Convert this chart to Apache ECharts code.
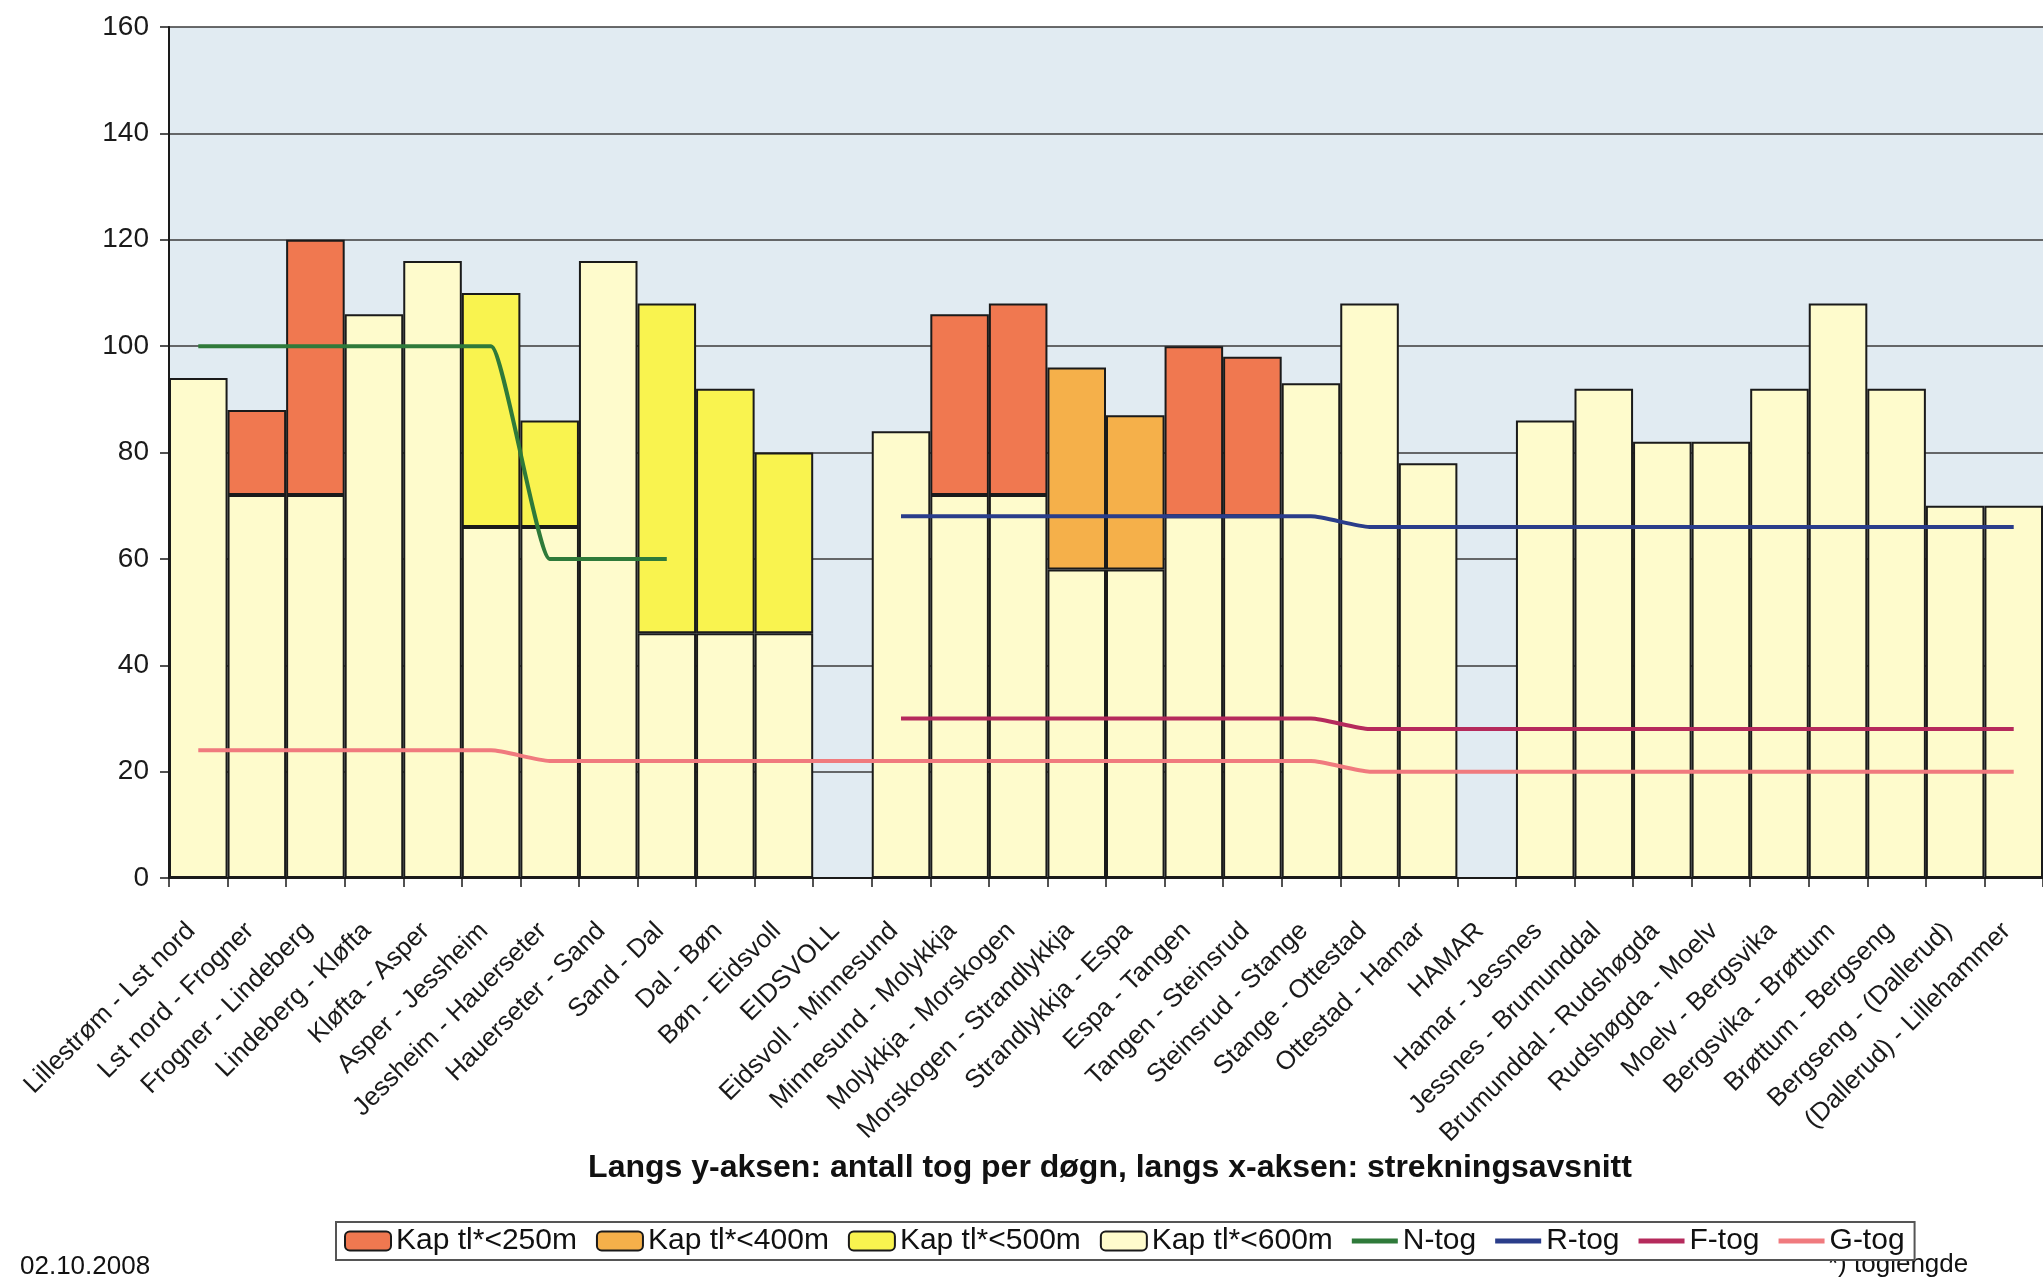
<!DOCTYPE html>
<html>
<head>
<meta charset="utf-8">
<script src="https://cdn.jsdelivr.net/npm/echarts@6/dist/echarts.min.js"></script>
<style>
html,body{margin:0;padding:0;background:#fff;}
#chart{width:2043px;height:1282px;}
</style>
</head>
<body>
<div id="chart"></div>
<script>
const categories = [
  'Lillestrøm - Lst nord','Lst nord - Frogner','Frogner - Lindeberg','Lindeberg - Kløfta','Kløfta - Asper',
  'Asper - Jessheim','Jessheim - Hauerseter','Hauerseter - Sand','Sand - Dal','Dal - Bøn','Bøn - Eidsvoll',
  'EIDSVOLL','Eidsvoll - Minnesund','Minnesund - Molykkja','Molykkja - Morskogen','Morskogen - Strandlykkja',
  'Strandlykkja - Espa','Espa - Tangen','Tangen - Steinsrud','Steinsrud - Stange','Stange - Ottestad',
  'Ottestad - Hamar','HAMAR','Hamar - Jessnes','Jessnes - Brumunddal','Brumunddal - Rudshøgda',
  'Rudshøgda - Moelv','Moelv - Bergsvika','Bergsvika - Brøttum','Brøttum - Bergseng','Bergseng - (Dallerud)',
  '(Dallerud) - Lillehammer'
];
// stacked segments (bottom segment = Kap tl*<600m)
const kap600 = [94,72,72,106,116,66,66,116,46,46,46,null,84,72,72,58,58,68,68,93,108,78,null,86,92,82,82,92,108,92,70,70];
const kap500 = [null,null,null,null,null,44,20,null,62,46,34,null,null,null,null,null,null,null,null,null,null,null,null,null,null,null,null,null,null,null,null,null];
const kap400 = [null,null,null,null,null,null,null,null,null,null,null,null,null,null,null,38,29,null,null,null,null,null,null,null,null,null,null,null,null,null,null,null];
const kap250 = [null,16,48,null,null,null,null,null,null,null,null,null,null,34,36,null,null,32,30,null,null,null,null,null,null,null,null,null,null,null,null,null];
const nTog = [100,100,100,100,100,100,60,60,60,null,null,null,null,null,null,null,null,null,null,null,null,null,null,null,null,null,null,null,null,null,null,null];
const rTog = [null,null,null,null,null,null,null,null,null,null,null,null,68,68,68,68,68,68,68,68,66,66,66,66,66,66,66,66,66,66,66,66];
const fTog = [null,null,null,null,null,null,null,null,null,null,null,null,30,30,30,30,30,30,30,30,28,28,28,28,28,28,28,28,28,28,28,28];
const gTog = [24,24,24,24,24,24,22,22,22,22,22,22,22,22,22,22,22,22,22,22,20,20,20,20,20,20,20,20,20,20,20,20];
const yTicks = [0,20,40,60,80,100,120,140,160];

const FONT = "'Liberation Sans', Arial, Helvetica, sans-serif";
const LINE_ICON = 'path://M0,0 L46,0 L46,5 L0,5 Z';
const chart = echarts.init(document.getElementById('chart'), null, {renderer:'canvas'});

function barSeries(name, data, color){
  return {
    name, type:'bar', stack:'kap', data,
    barCategoryGap:'0%', barGap:'0%',
    itemStyle:{color, borderColor:'#1a1a1a', borderWidth:2},
    z:2
  };
}
function lineSeries(name, data, color){
  return {
    name, type:'line', data, symbol:'none', showSymbol:false,
    smooth:0.2, smoothMonotone:'x', connectNulls:false,
    lineStyle:{color, width:4}, itemStyle:{color},
    z:5
  };
}

chart.setOption({
  animation:false,
  backgroundColor:'#ffffff',
  textStyle:{fontFamily:FONT},
  grid:{left:169, top:27, width:1882, height:851, show:true, backgroundColor:'#e1ebf2', borderWidth:0},
  xAxis:{
    type:'category', data:categories, boundaryGap:true,
    axisLine:{show:true, lineStyle:{color:'#1a1a1a', width:2}},
    axisTick:{show:true, length:9, interval:0, lineStyle:{color:'#1a1a1a', width:1.5}},
    axisLabel:{interval:0, rotate:45, fontSize:26, color:'#1a1a1a', fontFamily:FONT, margin:42, padding:[0,10,0,0]}
  },
  yAxis:{
    type:'value', min:yTicks[0], max:yTicks[yTicks.length-1], interval:20,
    axisLine:{show:true, lineStyle:{color:'#1a1a1a', width:2}},
    axisTick:{show:true, length:9, lineStyle:{color:'#1a1a1a', width:1.5}},
    axisLabel:{fontSize:28, color:'#1a1a1a', fontFamily:FONT, margin:20},
    splitLine:{show:true, lineStyle:{color:'#3a3a3a', width:1.5}}
  },
  legend:{
    left:336, top:1222, orient:'horizontal',
    data:[
      {name:'Kap tl*<250m'},{name:'Kap tl*<400m'},{name:'Kap tl*<500m'},{name:'Kap tl*<600m'},
      {name:'N-tog', icon:LINE_ICON},{name:'R-tog', icon:LINE_ICON},{name:'F-tog', icon:LINE_ICON},{name:'G-tog', icon:LINE_ICON}
    ],
    itemWidth:46, itemHeight:19, itemGap:19,
    padding:[3,10,3,8],
    borderColor:'#555', borderWidth:2, backgroundColor:'#ffffff',
    textStyle:{fontSize:30, color:'#111', fontFamily:FONT, lineHeight:32},
    z:10
  },
  graphic:[
    {type:'text', x:1110, y:1152, z:1,
     style:{text:'Langs y-aksen: antall tog per døgn, langs x-aksen: strekningsavsnitt', font:"bold 32px 'Liberation Sans', Arial, sans-serif", fill:'#111', textAlign:'center'}},
    {type:'text', left:20, top:1254, z:1,
     style:{text:'02.10.2008', font:"26px 'Liberation Sans', Arial, sans-serif", fill:'#111'}},
    {type:'text', left:1828, top:1252, z:1,
     style:{text:'*) toglengde', font:"26px 'Liberation Sans', Arial, sans-serif", fill:'#111'}}
  ],
  series:[
    barSeries('Kap tl*<600m', kap600, '#fefbcc'),
    barSeries('Kap tl*<500m', kap500, '#f9f34f'),
    barSeries('Kap tl*<400m', kap400, '#f5b04a'),
    barSeries('Kap tl*<250m', kap250, '#f07850'),
    lineSeries('N-tog', nTog, '#2f7a3a'),
    lineSeries('R-tog', rTog, '#2a3d8a'),
    lineSeries('F-tog', fTog, '#b52a5c'),
    lineSeries('G-tog', gTog, '#f07a7e')
  ]
});
</script>
</body>
</html>
